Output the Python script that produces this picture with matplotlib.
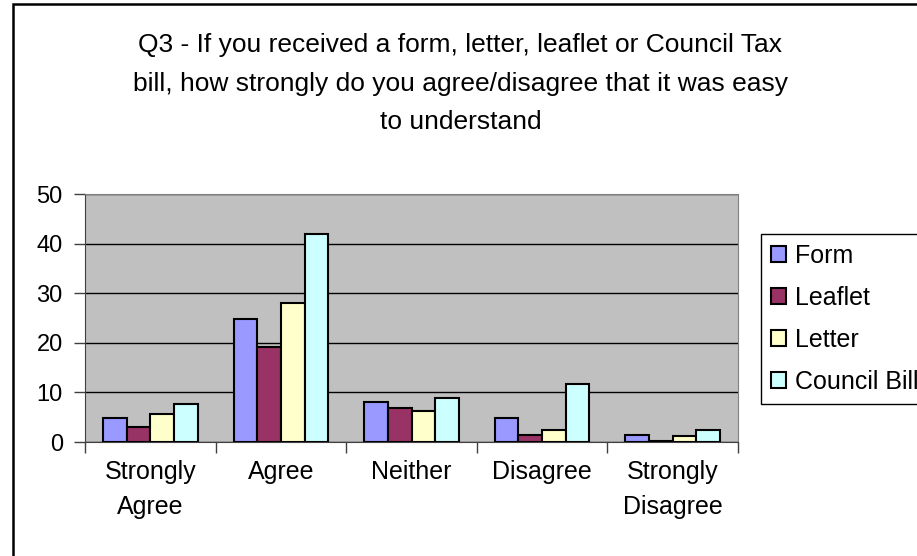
import matplotlib.pyplot as plt
import numpy as np
from matplotlib.patches import Rectangle

plt.rcParams['font.family'] = ['Liberation Sans', 'DejaVu Sans']

categories = ['Strongly\nAgree', 'Agree', 'Neither', 'Disagree', 'Strongly\nDisagree']
series = ['Form', 'Leaflet', 'Letter', 'Council Bill']
form = [4.8, 24.9, 8.0, 4.8, 1.5]
leaflet = [3.1, 19.2, 6.8, 1.5, 0.3]
letter = [5.6, 28.1, 6.3, 2.4, 1.2]
council_bill = [7.6, 41.9, 8.8, 11.6, 2.4]
colours = ['#9999FF', '#993366', '#FFFFCC', '#CCFFFF']

title = ('Q3 - If you received a form, letter, leaflet or Council Tax\n'
         'bill, how strongly do you agree/disagree that it was easy\n'
         'to understand')

fig = plt.figure(figsize=(9.17, 5.56), dpi=100)
ax = fig.add_axes([0.0927, 0.2050, 0.7121, 0.4460])
ax.set_facecolor('#C0C0C0')

x = np.arange(len(categories))
width = 0.181
values = [form, leaflet, letter, council_bill]
for i, (name, vals) in enumerate(zip(series, values)):
    ax.bar(x + (i - 1.5) * width, vals, width, color=colours[i],
           edgecolor='black', linewidth=1.5, label=name, zorder=3)

ax.set_xlim(-0.5, 4.5)
ax.set_ylim(0, 50)
ax.set_yticks(range(0, 51, 10))
ax.yaxis.grid(True, color='black', linewidth=1, zorder=1)
ax.tick_params(axis='y', labelsize=17, length=8, width=1, color='#404040', pad=8)

ax.set_xticks(x)
ax.set_xticklabels(categories, fontsize=18, linespacing=1.6)
ax.tick_params(axis='x', which='major', length=0, pad=13)
ax.set_xticks(np.arange(-0.5, 5, 1), minor=True)
ax.tick_params(axis='x', which='minor', length=8, width=1, color='#404040')

for side in ['top', 'right']:
    ax.spines[side].set_color('#808080')
ax.spines['left'].set_color('#404040')
ax.spines['bottom'].set_color('#404040')

fig.text(0.502, 0.94, title, ha='center', va='top', fontsize=19, linespacing=1.76)

fig.legend(loc='upper left', bbox_to_anchor=(0.8299, 0.5791), fontsize=18,
           frameon=True, fancybox=False, edgecolor='black', framealpha=1,
           handlelength=0.6, handleheight=0.6, handletextpad=0.35,
           labelspacing=0.72, borderpad=0.4, borderaxespad=0)

fig.patches.append(Rectangle((13 / 917, -0.02), 1.0, 1.02 - 4 / 556,
                             transform=fig.transFigure, fill=False,
                             edgecolor='black', linewidth=1.8))

fig.savefig('out.png', dpi=100)
